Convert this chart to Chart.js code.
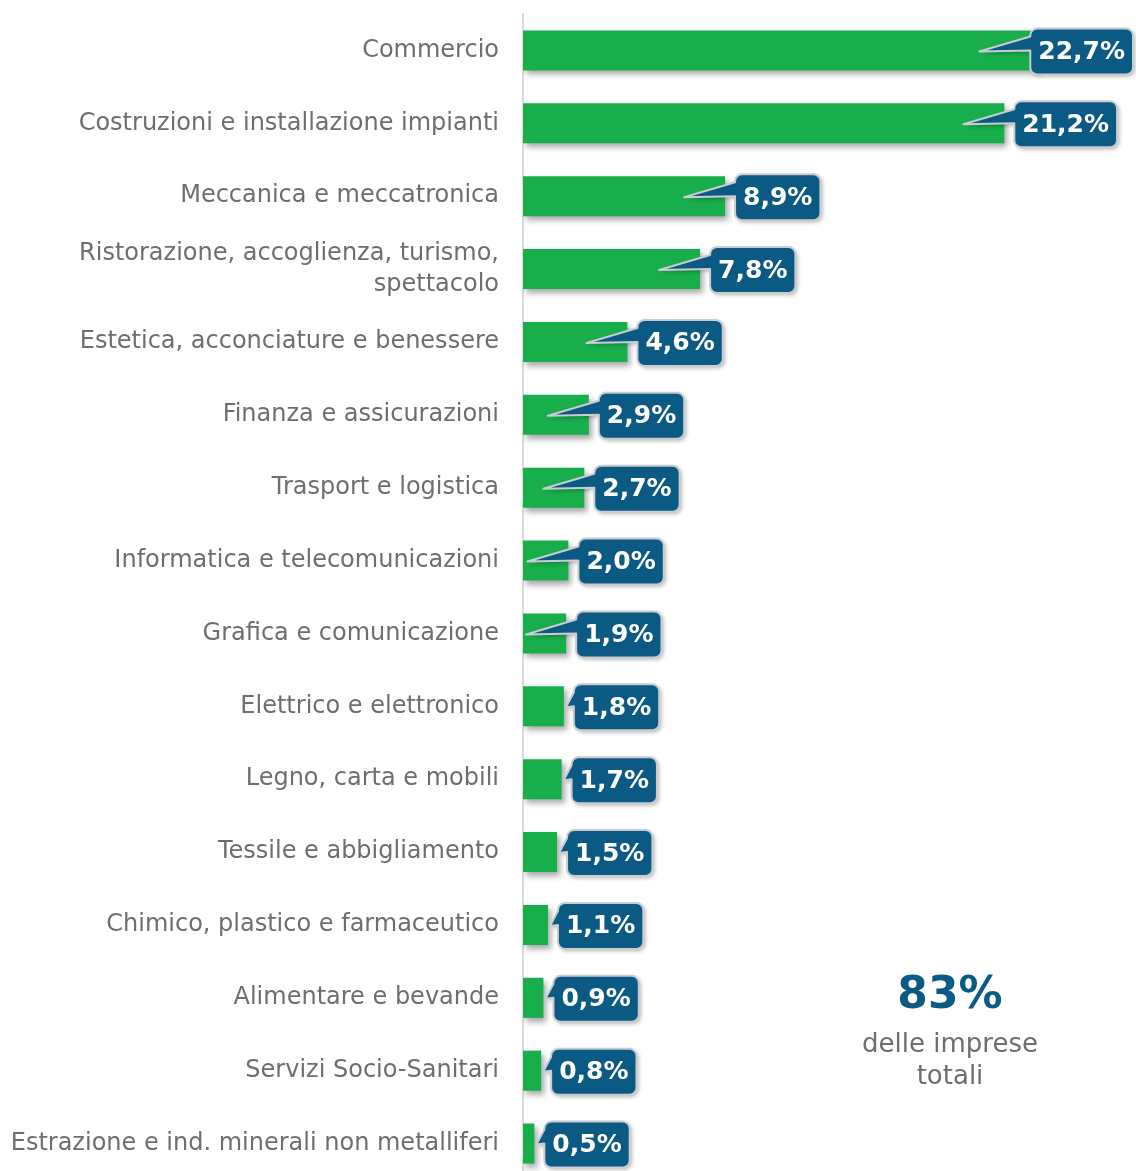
<!DOCTYPE html>
<html>
<head>
<meta charset="utf-8">
<script src="https://cdn.jsdelivr.net/npm/chart.js@4.4.1/dist/chart.umd.min.js"></script>
<style>
  html, body { margin: 0; padding: 0; background: #fff; overflow: hidden; }
  #wrap { position: relative; width: 1136px; height: 1180px; }
</style>
</head>
<body>
<div id="wrap"><canvas id="chart" width="1136" height="1180"></canvas></div>
<script>
const categorie = [
  'Commercio',
  'Costruzioni e installazione impianti',
  'Meccanica e meccatronica',
  ['Ristorazione, accoglienza, turismo,', 'spettacolo'],
  'Estetica, acconciature e benessere',
  'Finanza e assicurazioni',
  'Trasport e logistica',
  'Informatica e telecomunicazioni',
  'Grafica e comunicazione',
  'Elettrico e elettronico',
  'Legno, carta e mobili',
  'Tessile e abbigliamento',
  'Chimico, plastico e farmaceutico',
  'Alimentare e bevande',
  'Servizi Socio-Sanitari',
  'Estrazione e ind. minerali non metalliferi'
];
const quote = [22.7, 21.2, 8.9, 7.8, 4.6, 2.9, 2.7, 2.0, 1.9, 1.8, 1.7, 1.5, 1.1, 0.9, 0.8, 0.5];
const totale = '83%';
const totaleTesto = ['delle imprese', 'totali'];

const VERDE = '#17ae4b';
const BLU = '#0b5a84';
const GRIGIO = '#6e6e6e';
const FONT = "'DejaVu Sans', sans-serif";

function fmt(v) {
  return v.toFixed(1).replace('.', ',') + '%';
}

// ombra sotto le barre
const ombraBarre = {
  id: 'ombraBarre',
  beforeDatasetDraw(chart) {
    const ctx = chart.ctx;
    ctx.save();
    ctx.shadowColor = 'rgba(0,0,0,0.35)';
    ctx.shadowBlur = 6;
    ctx.shadowOffsetX = 3;
    ctx.shadowOffsetY = 4;
  },
  afterDatasetDraw(chart) {
    chart.ctx.restore();
  }
};

// contorno del fumetto: rettangolo arrotondato con la coda sul lato sinistro
function pathFumetto(ctx, left, top, w, h, r, tipX, tipY) {
  ctx.beginPath();
  ctx.moveTo(left + r, top);
  ctx.lineTo(left + w - r, top);
  ctx.arcTo(left + w, top, left + w, top + r, r);
  ctx.lineTo(left + w, top + h - r);
  ctx.arcTo(left + w, top + h, left + w - r, top + h, r);
  ctx.lineTo(left + r, top + h);
  ctx.arcTo(left, top + h, left, top + h - r, r);
  ctx.lineTo(left, top + 22);
  ctx.lineTo(tipX, tipY);
  ctx.lineTo(left, top + 8);
  ctx.lineTo(left, top + r);
  ctx.arcTo(left, top, left + r, top, r);
  ctx.closePath();
}

// etichette a fumetto
const fumetti = {
  id: 'fumetti',
  afterDatasetsDraw(chart) {
    const ctx = chart.ctx;
    const meta = chart.getDatasetMeta(0);
    const x0 = chart.scales.x.getPixelForValue(0);
    ctx.save();
    ctx.font = "bold 25px " + FONT;
    meta.data.forEach((bar, i) => {
      const testo = fmt(quote[i]);
      const w = ctx.measureText(testo).width + 16;
      const h = 46;
      let left = bar.x + 10;
      if (left + w > chart.width - 3) left = chart.width - 3 - w;
      const top = bar.y - h / 2 + 1;
      const tipX = quote[i] >= 1.9 ? Math.max(left - 51, x0 + 3) : left - 8;
      const tipY = bar.y + 1;

      pathFumetto(ctx, left, top, w, h, 7, tipX, tipY);
      ctx.shadowColor = 'rgba(0,0,0,0.3)';
      ctx.shadowBlur = 4;
      ctx.shadowOffsetX = 2;
      ctx.shadowOffsetY = 2;
      ctx.fillStyle = BLU;
      ctx.fill();
      ctx.shadowColor = 'transparent';
      ctx.lineWidth = 2;
      ctx.lineJoin = 'round';
      ctx.strokeStyle = '#c9ccd0';
      ctx.stroke();

      ctx.fillStyle = '#fff';
      ctx.textAlign = 'center';
      ctx.textBaseline = 'middle';
      ctx.fillText(testo, left + w / 2, top + h / 2 + 1);
    });
    ctx.restore();
  }
};

// totale in basso a destra
const riquadroTotale = {
  id: 'riquadroTotale',
  afterDraw(chart) {
    const ctx = chart.ctx;
    ctx.save();
    ctx.textAlign = 'center';
    ctx.textBaseline = 'middle';
    ctx.fillStyle = BLU;
    ctx.font = "bold 44px " + FONT;
    ctx.fillText(totale, 950, 997);
    ctx.fillStyle = GRIGIO;
    ctx.font = "26px " + FONT;
    ctx.fillText(totaleTesto[0], 950, 1045);
    ctx.fillText(totaleTesto[1], 950, 1077);
    ctx.restore();
  }
};

new Chart(document.getElementById('chart'), {
  type: 'bar',
  data: {
    labels: categorie,
    datasets: [{
      data: quote,
      backgroundColor: VERDE,
      borderWidth: 0,
      categoryPercentage: 1,
      barPercentage: 0.55
    }]
  },
  options: {
    indexAxis: 'y',
    responsive: false,
    animation: false,
    layout: { padding: { top: 14, right: 0, bottom: 0, left: 0 } },
    plugins: {
      legend: { display: false },
      tooltip: { enabled: false }
    },
    scales: {
      x: {
        display: false,
        min: 0,
        max: 27
      },
      y: {
        afterFit(scale) {
          scale.width = 523;
          scale.paddingTop = 0;
          scale.paddingBottom = 0;
        },
        grid: { display: false },
        border: { display: true, color: '#d9d9d9', width: 2 },
        ticks: {
          padding: 16,
          color: GRIGIO,
          font: { family: FONT, size: 24, lineHeight: 1.3 }
        }
      }
    }
  },
  plugins: [ombraBarre, fumetti, riquadroTotale]
});
</script>
</body>
</html>
